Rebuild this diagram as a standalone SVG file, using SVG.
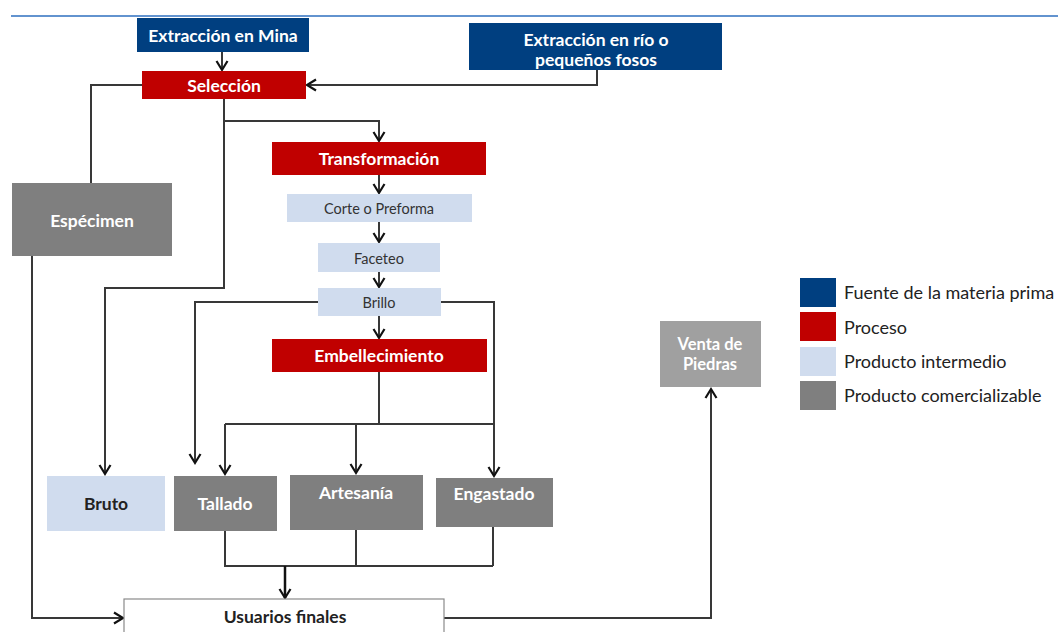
<svg xmlns="http://www.w3.org/2000/svg" width="1058" height="632" viewBox="0 0 1058 632">
<style>
.t{font-family:Lato,"Open Sans","Liberation Sans",sans-serif;text-anchor:middle;dominant-baseline:central}
.b{font-weight:bold;fill:#fff;font-size:17.5px}
.s{font-size:14.5px;fill:#333}
.lg{font-family:Lato,"Open Sans","Liberation Sans",sans-serif;font-size:18px;fill:#222;dominant-baseline:central}
.src{fill:#003f80}
.proc{fill:#c00000}
.mid{fill:#d0dcee}
.com{fill:#7f7f7f}
.c{fill:none;stroke:#383838;stroke-width:2}
.a{marker-end:url(#ah)}
</style>
<defs>
<marker id="ah" markerUnits="userSpaceOnUse" markerWidth="14" markerHeight="14" viewBox="0 0 14 14" refX="11" refY="7" orient="auto">
<path d="M2,1.5 L11,7 L2,12.5" fill="none" stroke="#111" stroke-width="2.2"/>
</marker>
</defs>
<rect width="1058" height="632" fill="#fff"/>
<line x1="11" y1="16" x2="1058" y2="16" stroke="#2e6fbf" stroke-width="1.5"/>

<g id="connectors">
<path class="c a" d="M222,52 V70"/>
<path class="c a" d="M597,70 V85 H307"/>
<path class="c" d="M143,85 H91 V183"/>
<path class="c a" d="M224,99 V121 H379 V141"/>
<path class="c a" d="M224,121 V288 H105 V474"/>
<path class="c a" d="M379,175 V193"/>
<path class="c a" d="M379,222 V242"/>
<path class="c a" d="M379,272 V287"/>
<path class="c a" d="M379,316 V338"/>
<path class="c a" d="M318,302 H195 V463"/>
<path class="c a" d="M441,302 H494 V476"/>
<path class="c" d="M379,372 V424 M225,424 H494"/>
<path class="c a" d="M225,424 V474"/>
<path class="c a" d="M356,424 V473"/>
<path class="c" d="M225,531 V566 H493 M356,530 V566 M493,527 V566"/>
<path class="c a" d="M285,566 V598" style="stroke:#111;stroke-width:2.5"/>
<path class="c a" d="M32,256 V618 H123"/>
<path class="c a" d="M444,618 H711 V389"/>
</g>

<g id="n-mina"><rect class="src" x="137" y="18" width="172" height="34"/><text class="t b" x="223" y="35">Extracción en Mina</text></g>
<g id="n-rio"><rect class="src" x="469" y="23" width="253" height="47"/><text class="t b" x="596" y="39">Extracción en río o</text><text class="t b" x="596" y="59">pequeños fosos</text></g>
<g id="n-seleccion"><rect class="proc" x="142" y="71" width="164" height="28"/><text class="t b" x="224" y="85">Selección</text></g>
<g id="n-especimen"><rect class="com" x="12" y="183" width="160" height="73"/><text class="t b" x="92" y="220">Espécimen</text></g>
<g id="n-transformacion"><rect class="proc" x="272" y="142" width="214" height="33"/><text class="t b" x="379" y="158">Transformación</text></g>
<g id="n-corte"><rect class="mid" x="287" y="194" width="185" height="28"/><text class="t s" x="379" y="208">Corte o Preforma</text></g>
<g id="n-faceteo"><rect class="mid" x="318" y="243" width="122" height="29"/><text class="t s" x="379" y="258">Faceteo</text></g>
<g id="n-brillo"><rect class="mid" x="318" y="288" width="123" height="28"/><text class="t s" x="379" y="302">Brillo</text></g>
<g id="n-embellecimiento"><rect class="proc" x="272" y="339" width="215" height="33"/><text class="t b" x="379" y="355">Embellecimiento</text></g>
<g id="n-bruto"><rect class="mid" x="47" y="476" width="118" height="55"/><text class="t b" x="106" y="503" style="fill:#222">Bruto</text></g>
<g id="n-tallado"><rect class="com" x="174" y="476" width="103" height="55"/><text class="t b" x="225" y="503">Tallado</text></g>
<g id="n-artesania"><rect class="com" x="290" y="475" width="133" height="55"/><text class="t b" x="356" y="492">Artesanía</text></g>
<g id="n-engastado"><rect class="com" x="436" y="478" width="117" height="49"/><text class="t b" x="494" y="493">Engastado</text></g>
<g id="n-usuarios"><rect x="124" y="599" width="320" height="45" fill="#fff" stroke="#8a8a8a" stroke-width="1.2"/><text class="t b" x="285" y="616" style="fill:#222">Usuarios finales</text></g>
<g id="n-venta"><rect x="660" y="321" width="101" height="66" fill="#a0a0a0"/><text class="t b" x="710" y="344" style="font-size:16.5px">Venta de</text><text class="t b" x="710" y="364" style="font-size:16.5px">Piedras</text></g>

<g id="legend">
<rect class="src" x="800" y="278" width="36" height="29"/><text class="lg" x="844" y="292">Fuente de la materia prima</text>
<rect class="proc" x="800" y="312" width="36" height="29"/><text class="lg" x="844" y="327">Proceso</text>
<rect class="mid" x="800" y="347" width="36" height="29"/><text class="lg" x="844" y="361">Producto intermedio</text>
<rect class="com" x="800" y="381" width="36" height="29"/><text class="lg" x="844" y="395">Producto comercializable</text>
</g>
</svg>
